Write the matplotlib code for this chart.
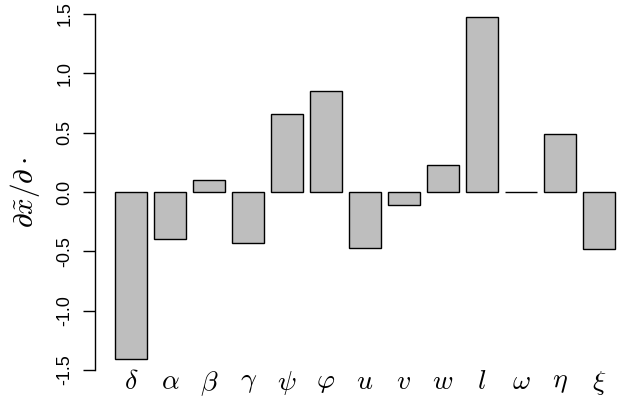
import matplotlib
matplotlib.use("Agg")
import matplotlib.pyplot as plt
import numpy as np

plt.rcParams['mathtext.fontset'] = 'cm'
plt.rcParams['font.family'] = ['Liberation Sans', 'DejaVu Sans']

labels = [r'$\delta$', r'$\alpha$', r'$\beta$', r'$\gamma$', r'$\psi$', r'$\varphi$',
          r'$u$', r'$v$', r'$w$', r'$l$', r'$\omega$', r'$\eta$', r'$\xi$']
values = [-1.41, -0.40, 0.10, -0.43, 0.66, 0.85, -0.47, -0.11, 0.23, 1.475, 0.0, 0.49, -0.48]
yticks = [-1.5, -1.0, -0.5, 0.0, 0.5, 1.0, 1.5]

W, H = 617, 407
fig = plt.figure(figsize=(W/100, H/100), dpi=100)
ax = fig.add_axes([95/W, (H-375)/H, (W-95)/W, 375/H])

n = len(values)
pos = 0.2 + 1.2*np.arange(n) + 0.5
ax.bar(pos, values, width=1.0, color='#bebebe', edgecolor='black', linewidth=1.0)

ax.set_xlim(-0.416, 15.66)
ax.set_ylim(-1.542, 1.618)

for s in ['top', 'right', 'bottom']:
    ax.spines[s].set_visible(False)
ax.spines['left'].set_bounds(-1.5, 1.5)
ax.spines['left'].set_linewidth(1.0)

ax.set_yticks(yticks)
ax.set_yticklabels([f"{t:.1f}" for t in yticks], rotation=90, va='center', fontsize=13)
ax.tick_params(axis='y', length=8.6, width=1.0, pad=7)

ax.set_xticks(pos)
ax.set_xticklabels(labels, fontsize=20)
ax.tick_params(axis='x', length=0, pad=-4)

fig.text(25/W, 1 - 192/H, r'$\partial\tilde{x}/\partial\cdot$', rotation=90, ha='center', va='center', fontsize=21)

fig.savefig('out.png', dpi=100)
